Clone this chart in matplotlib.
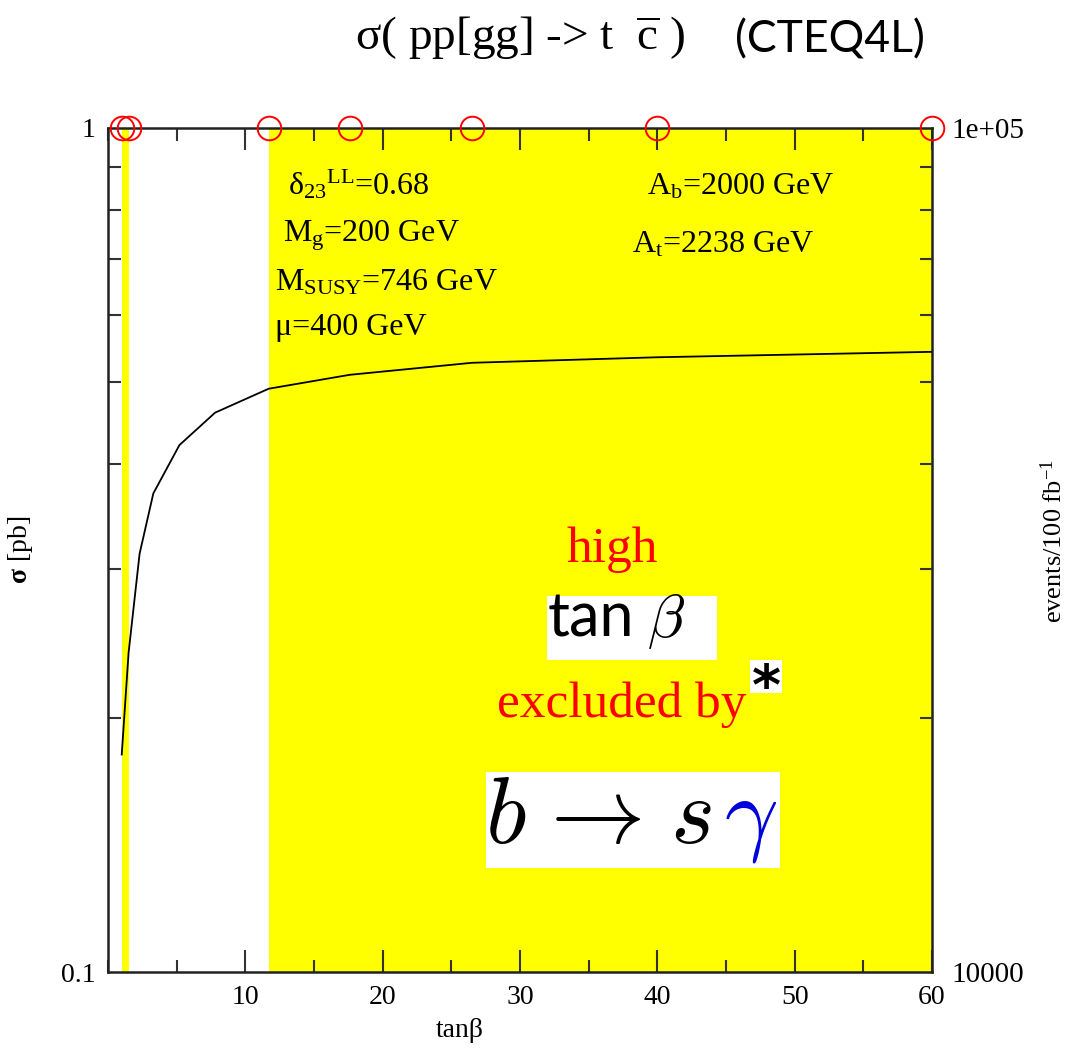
import matplotlib
matplotlib.use("Agg")
import matplotlib.pyplot as plt
from matplotlib.patches import Rectangle
from matplotlib.ticker import FixedLocator, FixedFormatter, LogLocator, NullFormatter, MultipleLocator

plt.rcParams['font.family'] = ['Liberation Serif', 'DejaVu Serif']
plt.rcParams['mathtext.fontset'] = 'custom'
plt.rcParams['mathtext.rm'] = 'Liberation Serif'
plt.rcParams['mathtext.it'] = 'Liberation Serif:italic'
plt.rcParams['mathtext.bf'] = 'Liberation Serif:bold'

# cross section vs tan(beta)
tanb = [1.0, 1.5, 2.3, 3.3, 5.2, 7.8, 11.7, 17.6, 26.5, 40.0, 60.0]
sigma = [0.181, 0.239, 0.313, 0.369, 0.421, 0.460, 0.491, 0.510, 0.527, 0.535, 0.543]

# points excluded by b -> s gamma (red circles on top axis)
excluded_tanb = [1.0, 1.5, 11.7, 17.6, 26.5, 40.0, 60.0]
# yellow excluded bands (tanb ranges)
band_lo = [1.0, 11.7]
band_hi = [1.5, 60.0]

y_ticks = [0.1, 1]
y_ticklabels = ['0.1', '1']
right_ticks = [1e4, 1e5]
right_ticklabels = ['10000', '1e+05']

fig = plt.figure(figsize=(10.79, 10.5), dpi=100)
ax = fig.add_axes([108 / 1079, 1 - 972 / 1050, 824 / 1079, 844 / 1050])

for lo, hi in zip(band_lo, band_hi):
    ax.axvspan(lo, hi, color='#ffff00', lw=0, zorder=0)

ax.plot(tanb, sigma, color='black', lw=1.3, zorder=3)
ax.plot(excluded_tanb, [1.0] * len(excluded_tanb), 'o', ms=17, mfc='none',
        mec='red', mew=1.4, clip_on=False, zorder=5)

ax.set_xlim(0, 60)
ax.set_yscale('log')
ax.set_ylim(0.1, 1)

ax.xaxis.set_major_locator(MultipleLocator(10))
ax.xaxis.set_minor_locator(MultipleLocator(5))
ax.set_xticks([10, 20, 30, 40, 50, 60])
ax.yaxis.set_major_locator(FixedLocator(y_ticks))
ax.yaxis.set_major_formatter(FixedFormatter(y_ticklabels))
ax.yaxis.set_minor_locator(LogLocator(base=10, subs=range(2, 10)))
ax.yaxis.set_minor_formatter(NullFormatter())

ax.tick_params(which='both', direction='in', top=True, right=True, width=1.5,
               color='#333333', labelsize=20)
ax.tick_params(which='major', length=16, pad=9)
ax.tick_params(which='minor', length=9)
ax.tick_params(axis='y', which='major', length=0)
for s in ax.spines.values():
    s.set_linewidth(1.8)
    s.set_color('#222222')

ax.set_xlabel('tanβ', fontsize=20)
ax.xaxis.set_label_coords((460 - 108) / 824, -0.055)
ax.set_ylabel(r'$\mathbf{\sigma}$ [pb]', fontsize=20)
ax.yaxis.set_label_coords((35 - 108) / 824, 0.5)

# right axis: events / 100 fb^-1
ax2 = ax.twinx()
ax2.set_yscale('log')
ax2.set_ylim(1e4, 1e5)
ax2.yaxis.set_major_locator(FixedLocator(right_ticks))
ax2.yaxis.set_major_formatter(FixedFormatter(right_ticklabels))
ax2.yaxis.set_minor_locator(LogLocator(base=10, subs=range(2, 10)))
ax2.yaxis.set_minor_formatter(NullFormatter())
ax2.tick_params(which='both', direction='in', length=0, labelsize=21, pad=14)
ax2.tick_params(which='minor', length=9, width=1.5, color='#333333')
ax2.set_ylabel('events/100 fb$^{-1}$', fontsize=19)
ax2.yaxis.set_label_coords((1040 - 108) / 824, 0.51)
for s in ax2.spines.values():
    s.set_visible(False)

# title
fig.text(355 / 1079, 1 - 50 / 1050, r'σ( pp[gg] -> t  $\overline{\mathrm{c}}$ )',
         fontsize=34, va='baseline', ha='left')
fig.text(735 / 1079, 1 - 52 / 1050, '(CTEQ4L)', fontsize=32, family='Lato',
         va='baseline', ha='left')

# parameter labels
pk = dict(transform=ax.transAxes, fontsize=23, va='baseline', ha='left', zorder=6)
ax.text(0.218, 0.921, r'δ$_{23}{}^{\rm LL}$=0.68', **pk)
ax.text(0.212, 0.865, r'M$_{\rm g}$=200 GeV', **pk)
ax.text(0.203, 0.808, r'M$_{\rm SUSY}$=746 GeV', **pk)
ax.text(0.203, 0.755, 'μ=400 GeV', **pk)
ax.text(0.654, 0.921, r'A$_{\rm b}$=2000 GeV', **pk)
ax.text(0.636, 0.853, r'A$_{\rm t}$=2238 GeV', **pk)

# exclusion note
ax.text(0.612, 0.486, 'high', transform=ax.transAxes, color='red', fontsize=37,
        ha='center', va='baseline', zorder=6)
ax.text(0.623, 0.302, 'excluded by', transform=ax.transAxes, color='red', fontsize=37,
        ha='center', va='baseline', zorder=6)

for (x0, y0, x1, y1) in [(0.533, 0.370, 0.739, 0.445),
                         (0.779, 0.331, 0.818, 0.370),
                         (0.459, 0.123, 0.816, 0.237)]:
    ax.add_patch(Rectangle((x0, y0), x1 - x0, y1 - y0, transform=ax.transAxes,
                           facecolor='white', edgecolor='none', zorder=5))

ax.text(0.534, 0.397, 'tan', transform=ax.transAxes, fontsize=44, family='Lato',
        ha='left', va='baseline', zorder=6)
ax.text(0.654, 0.397, r'$\beta$', transform=ax.transAxes, fontsize=44,
        math_fontfamily='cm', ha='left', va='baseline', zorder=6)
ax.text(0.7985, 0.318, '*', transform=ax.transAxes, fontsize=40, family='DejaVu Sans',
        weight='bold', ha='center', va='baseline', zorder=6)

bk = dict(transform=ax.transAxes, fontsize=68, math_fontfamily='cm',
          ha='left', va='baseline', zorder=6)
ax.text((485 - 108) / 824, 0.153, r'$b$', **bk)
ax.text((534 - 108) / 824, 0.153, r'$\rightarrow$', **bk)
ax.text((670 - 108) / 824, 0.153, r'$s$', **bk)
ax.text((724 - 108) / 824, 0.153, r'$\gamma$', color='#0000dd', **bk)

fig.savefig('out.png', dpi=100)
